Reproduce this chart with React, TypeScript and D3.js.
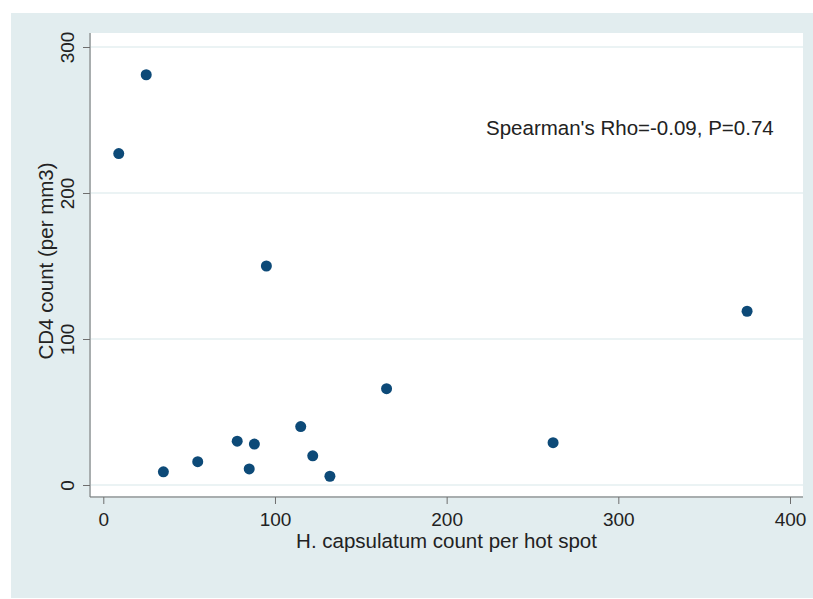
import React, { useEffect, useRef } from "react";
import * as d3 from "d3";

// H. capsulatum count per hot spot vs CD4 count
const hcCount = [9, 25, 95, 375, 165, 262, 35, 55, 78, 88, 85, 115, 122, 132];
const cd4Count = [227, 281, 150, 119, 66, 29, 9, 16, 30, 28, 11, 40, 20, 6];
const xTicks = [0, 100, 200, 300, 400];
const yTicks = [0, 100, 200, 300];
const annotation = "Spearman's Rho=-0.09, P=0.74";

const W = 813;
const H = 599;

const App = () => {
  const ref = useRef<SVGSVGElement | null>(null);

  useEffect(() => {
    drawChart();
    //eslint-disable-next-line
  }, []);

  function drawChart() {
    const svg = d3.select(ref.current);
    svg.selectAll("*").remove();

    const font = "'Liberation Sans', Arial, sans-serif";
    const bg = "#e2edef";
    const grid = "#e4eff1";
    const axisColor = "#6e6e6e";

    // plot region
    const left = 90;
    const right = 803;
    const top = 33;
    const bottom = 497;

    const x = d3.scaleLinear().domain([0, 400]).range([103.3, 790]);
    const y = d3.scaleLinear().domain([0, 300]).range([485, 47]);

    svg.append("rect").attr("width", W).attr("height", H).attr("fill", "#ffffff");
    svg
      .append("rect")
      .attr("x", 11)
      .attr("y", 13)
      .attr("width", W - 11)
      .attr("height", 598 - 13)
      .attr("fill", bg);
    svg
      .append("rect")
      .attr("x", left + 1)
      .attr("y", top)
      .attr("width", right - left - 1)
      .attr("height", bottom - top - 1)
      .attr("fill", "#ffffff");

    // grid lines
    svg
      .selectAll("line.grid")
      .data(yTicks)
      .join("line")
      .attr("class", "grid")
      .attr("x1", left + 1)
      .attr("x2", right)
      .attr("y1", (d) => y(d))
      .attr("y2", (d) => y(d))
      .attr("stroke", grid)
      .attr("stroke-width", 1.5);

    // y axis
    const yAxis = svg
      .append("g")
      .attr("transform", `translate(${left},0)`)
      .call(d3.axisLeft(y).tickValues(yTicks).tickSize(7).tickPadding(8).tickSizeOuter(0));
    yAxis.select(".domain").attr("d", `M0,${top}V${bottom}`).attr("stroke", axisColor);
    yAxis.selectAll(".tick line").attr("stroke", axisColor);
    yAxis
      .selectAll(".tick text")
      .attr("x", null)
      .attr("dy", null)
      .attr("transform", "translate(-16,0) rotate(-90)")
      .attr("text-anchor", "middle")
      .attr("fill", "#222")
      .style("font-family", font)
      .style("font-size", "19px");

    // x axis
    const xAxis = svg
      .append("g")
      .attr("transform", `translate(0,${bottom})`)
      .call(d3.axisBottom(x).tickValues(xTicks).tickSize(7).tickPadding(9).tickSizeOuter(0));
    xAxis.select(".domain").attr("d", `M${left},0H${right}`).attr("stroke", axisColor);
    xAxis.selectAll(".tick line").attr("stroke", axisColor);
    xAxis
      .selectAll(".tick text")
      .attr("fill", "#222")
      .style("font-family", font)
      .style("font-size", "19px");

    // axis titles
    svg
      .append("text")
      .attr("x", (left + right) / 2)
      .attr("y", 548)
      .attr("text-anchor", "middle")
      .attr("fill", "#222")
      .style("font-family", font)
      .style("font-size", "20.5px")
      .text("H. capsulatum count per hot spot");

    svg
      .append("text")
      .attr("transform", `translate(53,${(top + bottom) / 2 - 4}) rotate(-90)`)
      .attr("text-anchor", "middle")
      .attr("fill", "#222")
      .style("font-family", font)
      .style("font-size", "20.5px")
      .text("CD4 count (per mm3)");

    // annotation
    svg
      .append("text")
      .attr("x", 486)
      .attr("y", 135)
      .attr("fill", "#222")
      .style("font-family", font)
      .style("font-size", "20.5px")
      .text(annotation);

    // points
    svg
      .selectAll("circle.pt")
      .data(hcCount.map((v, i) => [v, cd4Count[i]]))
      .join("circle")
      .attr("class", "pt")
      .attr("cx", (d) => x(d[0]))
      .attr("cy", (d) => y(d[1]))
      .attr("r", 5.5)
      .attr("fill", "#0d4a78");
  }

  return (
    <svg
      ref={ref}
      width={W}
      height={H}
      style={{ position: "absolute", left: 0, top: 0, display: "block" }}
    />
  );
};

export default App;
